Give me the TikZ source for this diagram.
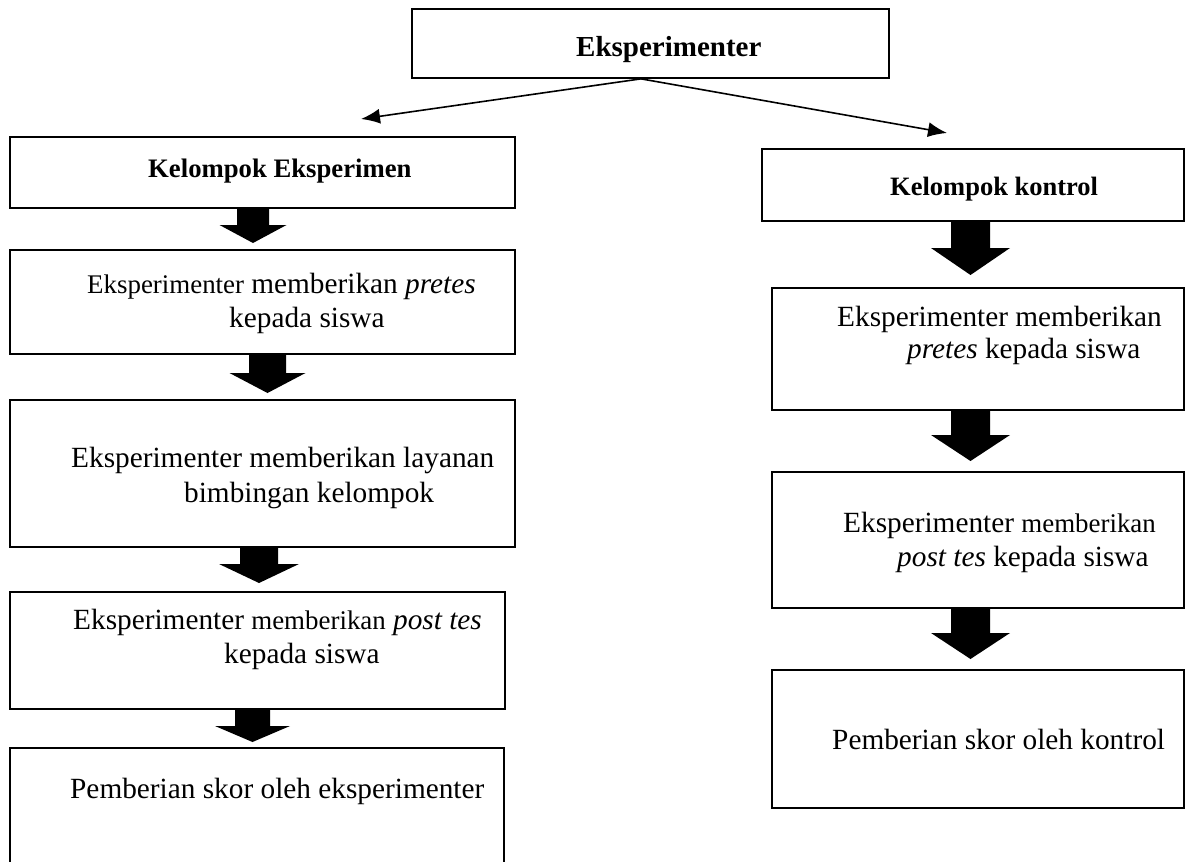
\documentclass[tikz,border=0pt]{standalone}
\usepackage{fontspec}
\setmainfont{Liberation Serif}
\usetikzlibrary{arrows.meta}
\newcommand\BlockArrow[6]{% cx, shaft half width, head half width, top, head base, tip
  \fill ({#1-#2},#4) -- ({#1+#2},#4) -- ({#1+#2},#5) -- ({#1+#3},#5) -- (#1,#6) -- ({#1-#3},#5) -- ({#1-#2},#5) -- cycle;}
\newcommand\bodyfont{\fontsize{29.3pt}{35pt}\selectfont}
\newcommand\smallbody{\fontsize{26.9pt}{32pt}\selectfont}
\begin{document}
\begin{tikzpicture}[x=1pt,y=-1pt,
  box/.style={draw,line width=1.7pt,inner sep=0pt},
  txt/.style={anchor=base west,inner sep=0pt,font=\bodyfont},
  conn/.style={line width=1.6pt,-{Latex[length=19pt,width=15pt]}}]
\path[use as bounding box] (0,0) rectangle (1186,862);
\clip (0,0) rectangle (1186,862);

% boxes
\node[box,minimum width=477pt,minimum height=69pt] (top) at (650.5,43.5) {};
\node[box,minimum width=505pt,minimum height=71pt] (L1) at (262.5,172.5) {};
\node[box,minimum width=505pt,minimum height=104pt] (L2) at (262.5,302) {};
\node[box,minimum width=505pt,minimum height=147pt] (L3) at (262.5,473.5) {};
\node[box,minimum width=495pt,minimum height=117pt] (L4) at (257.5,650.5) {};
\node[box,minimum width=494pt,minimum height=132pt] (L5) at (257,814) {};
\node[box,minimum width=422pt,minimum height=72pt] (R1) at (973,185) {};
\node[box,minimum width=412pt,minimum height=122pt] (R2) at (978,349) {};
\node[box,minimum width=412pt,minimum height=136pt] (R3) at (978,540) {};
\node[box,minimum width=412pt,minimum height=138pt] (R4) at (978,739) {};

% texts
\node[txt,font=\fontsize{29pt}{35pt}\selectfont\bfseries] (ttop) at (576,56) {Eksperimenter};
\node[txt,font=\fontsize{26.7pt}{32pt}\selectfont\bfseries] (tL1) at (148,177) {Kelompok Eksperimen};
\node[txt,font=\fontsize{26.5pt}{32pt}\selectfont\bfseries] (tR1) at (890,195) {Kelompok kontrol};

\node[txt] (tL2a) at (87,293) {{\smallbody Eksperimenter} memberikan \textit{pretes}};
\node[txt] (tL2b) at (229,327) {kepada siswa};
\node[txt] (tL3a) at (71,467) {Eksperimenter memberikan layanan};
\node[txt] (tL3b) at (184,502) {bimbingan kelompok};
\node[txt] (tL4a) at (73,629) {Eksperimenter {\smallbody memberikan} \textit{post tes}};
\node[txt] (tL4b) at (224,663) {kepada siswa};
\node[txt] (tL5) at (70,798) {Pemberian skor oleh eksperimenter};

\node[txt] (tR2a) at (837,326) {Eksperimenter memberikan};
\node[txt] (tR2b) at (907,358) {\textit{pretes} kepada siswa};
\node[txt] (tR3a) at (843,532) {Eksperimenter {\smallbody memberikan}};
\node[txt] (tR3b) at (897,566) {\textit{post tes} kepada siswa};
\node[txt] (tR4) at (832,749) {Pemberian skor oleh kontrol};

% thin arrows from the top box
\coordinate (src) at ([xshift=-9.5pt]top.south);
\coordinate (tipL) at (361,119);
\coordinate (tipR) at (947,133);
\draw[conn] (src) -- (tipL);
\draw[conn] (src) -- (tipR);

% block arrows
\BlockArrow{253}{16}{33.5}{209}{225}{243}
\BlockArrow{267.5}{18.5}{38}{354}{373}{393}
\BlockArrow{259}{19}{40}{548}{564}{583}
\BlockArrow{252.5}{17.5}{37.5}{709}{726}{742}
\BlockArrow{970.5}{19.5}{39.5}{221}{248}{275}
\BlockArrow{970.5}{19.5}{39.5}{410}{435}{461}
\BlockArrow{970.5}{19.5}{39.5}{608}{633}{659}
\end{tikzpicture}
\end{document}
